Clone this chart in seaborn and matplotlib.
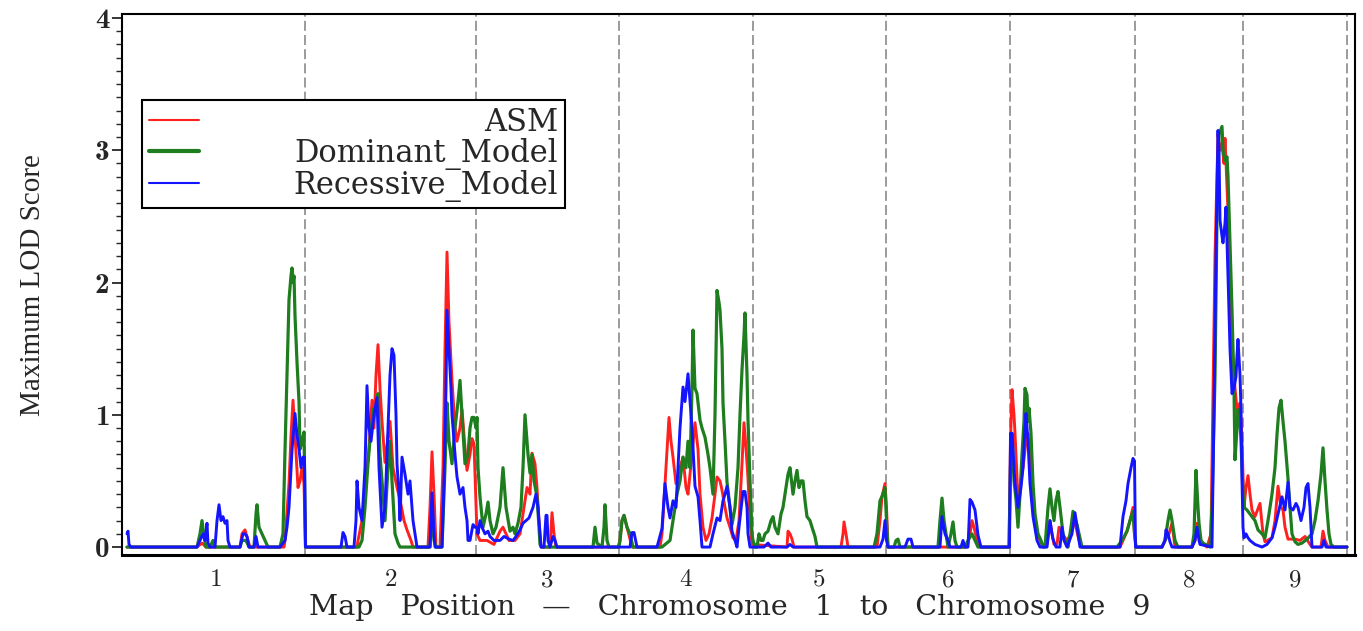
import numpy as np
import pandas as pd
import matplotlib
matplotlib.use("Agg")
import matplotlib.pyplot as plt
import seaborn as sns
from matplotlib.lines import Line2D
from matplotlib.ticker import MultipleLocator

# ---------------- data ----------------
CHROM_LABELS = ["1", "2", "3", "4", "5", "6", "7", "8", "9"]
CHROM_START = 5
CHROM_BOUNDS = [183, 354, 497, 631, 764, 888, 1013, 1121, 1225]
SERIES_NAMES = ["ASM", "Dominant_Model", "Recessive_Model"]

ASM = [
    (5, 0), (75, 0), (80, 0.03), (84, 0), (118, 0), (120, 0.1), (123, 0.13), (126, 0.05), (128, 0),
    (162, 0), (163, 0.05), (167, 0.48), (169, 0.84), (171, 1.11), (173, 0.84), (176, 0.45), (178, 0.5),
    (180, 0.6), (182, 0.48), (183.5, 0),
    (235, 0), (236, 0.05), (240, 0.2), (244, 0.5), (247, 0.75), (250, 1.11), (252, 0.9), (254, 1.3),
    (256, 1.53), (258, 1.2), (260, 0.95), (263, 0.64), (266, 0.83), (268, 0.95), (271, 0.6), (275, 0.45),
    (278, 0.36), (282, 0.2), (285, 0.13), (289, 0.05), (291, 0), (306, 0), (308, 0.3), (310, 0.72),
    (312, 0.4), (314, 0), (318, 0), (321, 0.6), (323, 1.5), (325, 2.23), (327, 1.7), (330, 1.26),
    (333, 0.9), (335, 0.8), (338, 0.9), (340, 1.04), (343, 0.75), (345, 0.58), (348, 0.7), (350, 0.82),
    (352, 0.78),
    (355, 0.1), (358, 0.05), (365, 0.05), (372, 0.02), (378, 0.12), (381, 0.15), (384, 0.1), (387, 0.05),
    (393, 0.05), (398, 0.1), (402, 0.3), (405, 0.45), (408, 0.4), (410, 0.71), (413, 0.63), (415, 0.45),
    (417, 0.2), (419, 0), (428, 0), (430, 0.26), (432, 0.1), (434, 0), (496, 0),
    (498, 0.05), (500, 0.2), (502, 0.24), (505, 0.15), (510, 0), (538, 0), (540, 0.1), (543, 0.48),
    (547, 0.98), (549, 0.8), (551, 0.68), (554, 0.48), (558, 0.6), (561, 0.68), (564, 0.45), (566, 0.4),
    (570, 0.7), (573, 0.94), (576, 0.74), (578, 0.4), (581, 0.15), (584, 0.05), (587, 0.1), (590, 0.22),
    (593, 0.4), (595, 0.53), (598, 0.5), (600, 0.43), (603, 0.3), (605, 0.22), (608, 0.15), (611, 0.07),
    (614, 0.05), (617, 0.2), (620, 0.63), (622, 0.94), (624, 0.75), (626, 0.52), (628, 0.2), (630, 0.02),
    (665, 0), (666, 0.12), (668, 0.1), (670, 0.06), (672, 0), (719, 0), (721, 0.1), (722, 0.19),
    (724, 0.1), (726, 0), (755, 0), (758, 0.2), (760, 0.38), (763, 0.48), (764.5, 0.3),
    (766, 0), (845, 0), (848, 0.1), (850, 0.2), (852, 0.15), (855, 0.05), (858, 0), (887, 0),
    (888.5, 0.8), (890, 1.19), (892, 1.0), (893, 0.86), (896, 0.36), (899, 0.5), (901, 0.6), (904, 0.8),
    (906, 0.86), (908, 0.7), (910, 0.48), (913, 0.2), (916, 0.08), (920, 0.02), (925, 0.02), (928, 0.2),
    (930, 0.1), (932, 0.02), (935, 0.02), (937, 0.15), (940, 0.1), (945, 0.05), (949, 0.1), (951, 0.2),
    (954, 0.15), (957, 0.05), (960, 0), (998, 0), (1001, 0.05), (1005, 0.12), (1008, 0.2), (1011, 0.3),
    (1012.5, 0.1),
    (1014, 0), (1040, 0), (1043, 0.05), (1047, 0.1), (1050, 0.18), (1053, 0), (1070, 0), (1073, 0.05),
    (1075, 0.18), (1078, 0.05), (1080, 0.03), (1085, 0), (1089, 0.1), (1091, 1.16), (1093, 2.2),
    (1096, 3.12), (1098, 3.0), (1100, 3.05), (1102, 2.9), (1103, 3.09), (1106, 2.54), (1108, 2.0),
    (1110, 1.54), (1113, 1.2), (1115, 1.04), (1117, 0.95), (1118, 1.09), (1120, 0.8),
    (1122, 0.3), (1124, 0.45), (1126, 0.54), (1128, 0.4), (1130, 0.28), (1133, 0.23), (1138, 0.33),
    (1141, 0.1), (1143, 0.04), (1150, 0.07), (1153, 0.2), (1156, 0.46), (1159, 0.3), (1161, 0.28),
    (1163, 0.15), (1166, 0.06), (1173, 0.06), (1178, 0.05), (1183, 0.08), (1188, 0.02), (1190, 0),
    (1199, 0), (1201, 0.12), (1203, 0.05), (1206, 0), (1225, 0),
]

DOMINANT = [
    (5, 0), (75, 0), (78, 0.1), (80, 0.2), (82, 0.08), (84, 0), (88, 0), (91, 0.05), (93, 0),
    (118, 0), (120, 0.05), (124, 0.05), (127, 0), (132, 0), (134, 0.25), (135, 0.32), (137, 0.15),
    (140, 0.1), (143, 0.05), (146, 0), (158, 0), (161, 0.1), (163, 0.73), (165, 1.3), (167, 1.87),
    (169, 2.05), (170, 2.11), (171, 2.0), (172, 2.05), (173, 1.75), (175, 1.4), (177, 1.1), (178, 0.74),
    (180, 0.8), (182, 0.87), (183.5, 0),
    (237, 0), (240, 0.05), (243, 0.3), (246, 0.63), (249, 0.9), (252, 1.05), (254, 1.0), (256, 1.16),
    (258, 0.7), (261, 0.4), (263, 0.2), (266, 0.6), (268, 0.8), (270, 0.5), (273, 0.1), (276, 0.03),
    (278, 0), (308, 0), (310, 0.3), (312, 0.05), (314, 0), (320, 0), (323, 0.6), (325, 1.09), (327, 0.8),
    (330, 0.63), (333, 0.9), (336, 1.1), (338, 1.26), (340, 1.0), (343, 0.63), (346, 0.7), (348, 0.9),
    (350, 0.98), (352, 0.98), (354, 0.9),
    (355, 0.98), (356, 0.6), (358, 0.38), (361, 0.15), (364, 0.25), (366, 0.34), (368, 0.2), (371, 0.1),
    (374, 0.15), (378, 0.3), (381, 0.6), (384, 0.3), (388, 0.12), (391, 0.15), (393, 0.1), (396, 0.18),
    (399, 0.3), (401, 0.6), (403, 1.0), (406, 0.7), (408, 0.56), (410, 0.7), (412, 0.5), (415, 0.38),
    (417, 0.15), (418, 0.02), (420, 0), (471, 0), (473, 0.15), (475, 0.03), (480, 0), (482, 0.15),
    (483, 0.32), (485, 0.05), (487, 0), (497, 0),
    (498, 0.05), (500, 0.2), (502, 0.24), (505, 0.15), (508, 0.1), (511, 0), (540, 0), (548, 0.05),
    (551, 0.2), (555, 0.4), (558, 0.5), (561, 0.68), (564, 0.6), (566, 0.8), (568, 0.6), (570, 1.2),
    (571, 1.64), (573, 1.2), (575, 1.16), (578, 0.96), (580, 0.9), (583, 0.83), (586, 0.7), (588, 0.6),
    (591, 0.4), (593, 1.0), (595, 1.94), (597, 1.85), (598, 1.79), (600, 1.5), (601, 1.09), (603, 0.8),
    (605, 0.49), (608, 0.3), (610, 0.17), (613, 0.3), (616, 0.6), (618, 1.0), (620, 1.34), (622, 1.6),
    (623, 1.77), (625, 1.3), (626, 0.96), (628, 0.5), (630, 0.1),
    (631, 0.05), (633, 0), (635, 0), (637, 0.1), (639, 0.05), (641, 0.05), (643, 0.1), (646, 0.12),
    (649, 0.2), (651, 0.23), (653, 0.15), (656, 0.1), (659, 0.25), (661, 0.3), (664, 0.45), (666, 0.55),
    (668, 0.6), (671, 0.4), (673, 0.5), (675, 0.58), (677, 0.45), (679, 0.5), (681, 0.5), (683, 0.35),
    (685, 0.23), (688, 0.2), (690, 0.15), (693, 0.08), (695, 0), (752, 0), (755, 0.1), (758, 0.35),
    (761, 0.4), (763, 0.45), (764.5, 0.2),
    (766, 0), (772, 0), (774, 0.05), (776, 0.06), (778, 0), (816, 0), (818, 0.2), (820, 0.37),
    (822, 0.2), (824, 0.1), (826, 0), (829, 0.1), (831, 0.19), (833, 0.05), (835, 0), (843, 0),
    (846, 0.05), (850, 0.1), (853, 0.05), (856, 0), (887, 0),
    (888.5, 0.6), (890, 0.86), (892, 0.5), (894, 0.36), (896, 0.15), (898, 0.4), (900, 0.7), (902, 0.95),
    (903, 1.2), (905, 1.15), (906, 0.95), (907, 1.05), (909, 0.86), (911, 0.48), (913, 0.25), (916, 0.1),
    (919, 0.05), (921, 0), (923, 0), (926, 0.3), (928, 0.44), (930, 0.3), (932, 0.2), (934, 0.35),
    (936, 0.42), (938, 0.3), (941, 0.1), (944, 0.03), (946, 0), (949, 0.15), (951, 0.27), (953, 0.22),
    (955, 0.17), (957, 0.1), (960, 0), (995, 0), (1000, 0.05), (1005, 0.12), (1008, 0.2), (1011, 0.27),
    (1012.5, 0.1),
    (1014, 0), (1040, 0), (1043, 0.05), (1046, 0.2), (1048, 0.28), (1050, 0.2), (1053, 0.05), (1056, 0),
    (1070, 0), (1072, 0.1), (1074, 0.58), (1076, 0.3), (1077, 0.18), (1079, 0.05), (1081, 0.03),
    (1088, 0), (1090, 0.3), (1093, 1.29), (1095, 2.5), (1097, 3.12), (1100, 3.18), (1101, 3.0),
    (1103, 2.92), (1105, 2.95), (1106, 2.8), (1108, 2.3), (1110, 1.79), (1112, 1.2), (1113, 0.66),
    (1115, 0.9), (1116, 1.04), (1118, 0.95), (1119, 0.8), (1121, 0.4),
    (1122, 0.3), (1125, 0.28), (1128, 0.25), (1130, 0.23), (1133, 0.2), (1136, 0.13), (1140, 0.1),
    (1143, 0.07), (1146, 0.2), (1150, 0.4), (1153, 0.6), (1155, 0.85), (1157, 1.05), (1159, 1.11),
    (1161, 0.95), (1163, 0.8), (1166, 0.52), (1168, 0.3), (1170, 0.1), (1173, 0.04), (1176, 0.02),
    (1180, 0.03), (1185, 0.06), (1190, 0.1), (1193, 0.2), (1196, 0.35), (1199, 0.55), (1201, 0.75),
    (1203, 0.5), (1205, 0.28), (1207, 0.1), (1209, 0.02), (1212, 0), (1225, 0),
]

RECESSIVE = [
    (5, 0.1), (6, 0.12), (7, 0.02), (9, 0), (75, 0), (78, 0.05), (81, 0.1), (83, 0.05), (85, 0.18),
    (86, 0.03), (88, 0), (93, 0), (95, 0.2), (97, 0.32), (99, 0.2), (101, 0.23), (103, 0.18), (105, 0.2),
    (106, 0.05), (108, 0), (118, 0), (121, 0.1), (123, 0.1), (125, 0.08), (127, 0), (132, 0), (134, 0.08),
    (136, 0), (158, 0), (163, 0.05), (165, 0.15), (167, 0.3), (170, 0.73), (173, 1.01), (175, 0.85),
    (177, 0.74), (179, 0.6), (181, 0.68), (182.5, 0.68), (183.5, 0),
    (219, 0), (221, 0.11), (223, 0.08), (225, 0), (232, 0), (234, 0.2), (235, 0.5), (237, 0.3),
    (240, 0.2), (243, 0.6), (245, 1.22), (247, 0.9), (249, 0.8), (252, 1.0), (255, 1.13), (257, 0.6),
    (260, 0.15), (263, 0.3), (266, 0.9), (268, 1.3), (270, 1.5), (272, 1.45), (274, 1.0), (275, 0.63),
    (277, 0.4), (278, 0.2), (280, 0.68), (283, 0.55), (286, 0.4), (288, 0.5), (291, 0.2), (293, 0.1),
    (295, 0), (308, 0), (310, 0.41), (312, 0.1), (313, 0), (320, 0), (322, 0.5), (324, 1.2), (325, 1.79),
    (327, 1.5), (329, 1.2), (330, 1.0), (333, 0.7), (335, 0.53), (338, 0.4), (341, 0.45), (343, 0.3),
    (345, 0.2), (346, 0.05), (348, 0.05), (351, 0.17), (353, 0.15),
    (355, 0.15), (356, 0.1), (358, 0.2), (360, 0.15), (363, 0.1), (366, 0.12), (368, 0.08), (372, 0.05),
    (378, 0.05), (382, 0.08), (387, 0.06), (391, 0.05), (394, 0.08), (398, 0.13), (401, 0.18), (404, 0.2),
    (407, 0.22), (411, 0.3), (414, 0.4), (416, 0.3), (418, 0.1), (419, 0), (422, 0), (424, 0.24),
    (425, 0.24), (426, 0.05), (428, 0), (431, 0.08), (433, 0.05), (435, 0), (497, 0),
    (508, 0), (510, 0.11), (512, 0.11), (515, 0), (535, 0), (540, 0.14), (543, 0.48), (546, 0.3),
    (548, 0.22), (551, 0.35), (554, 0.3), (556, 0.6), (558, 0.9), (561, 1.21), (563, 1.1), (566, 1.31),
    (568, 1.1), (570, 0.9), (572, 0.6), (573, 0.46), (576, 0.38), (578, 0.2), (580, 0), (588, 0),
    (591, 0.1), (595, 0.22), (598, 0.2), (601, 0.35), (603, 0.4), (605, 0.46), (608, 0.3), (610, 0.12),
    (613, 0.05), (615, 0), (617, 0.15), (620, 0.35), (621, 0.42), (623, 0.42), (625, 0.3), (626, 0.1),
    (628, 0), (642, 0), (646, 0.03), (649, 0), (665, 0), (668, 0.02), (671, 0), (758, 0), (761, 0.06),
    (763, 0.2), (764.5, 0.05),
    (766, 0), (783, 0), (786, 0.06), (789, 0.06), (791, 0), (818, 0), (820, 0.23), (823, 0.1),
    (826, 0.05), (828, 0), (839, 0), (841, 0.05), (843, 0), (846, 0), (848, 0.36), (850, 0.34),
    (853, 0.28), (856, 0.09), (859, 0), (887.5, 0),
    (888.5, 0.86), (890, 0.86), (893, 0.48), (896, 0.3), (899, 0.45), (901, 0.6), (903, 0.9), (904, 1.01),
    (906, 0.8), (908, 0.48), (911, 0.23), (915, 0.05), (918, 0), (925, 0), (928, 0.2), (930, 0.1),
    (931, 0.06), (934, 0), (938, 0), (940, 0.15), (942, 0.05), (945, 0), (950, 0.1), (953, 0.26),
    (956, 0.1), (958, 0), (998, 0), (1001, 0.23), (1004, 0.35), (1006, 0.48), (1009, 0.6), (1011, 0.67),
    (1012.5, 0.65), (1013.5, 0),
    (1040, 0), (1043, 0.05), (1044, 0.13), (1046, 0.1), (1048, 0.04), (1050, 0), (1070, 0), (1073, 0.05),
    (1075, 0.15), (1077, 0.05), (1078, 0.02), (1090, 0), (1091, 0.5), (1092, 1.04), (1094, 2.2),
    (1096, 3.15), (1097, 3.0), (1098, 2.47), (1100, 2.35), (1101, 2.3), (1103, 2.45), (1104, 2.57),
    (1106, 2.05), (1108, 1.5), (1110, 1.16), (1112, 1.2), (1114, 1.29), (1115, 1.45), (1116, 1.57),
    (1118, 1.3), (1119, 1.04), (1120, 0.5), (1121, 0.15),
    (1122, 0.07), (1124, 0.1), (1126, 0.07), (1128, 0.05), (1133, 0.02), (1140, 0), (1145, 0.02),
    (1150, 0.07), (1153, 0.15), (1156, 0.25), (1160, 0.38), (1163, 0.28), (1166, 0.49), (1168, 0.3),
    (1171, 0.28), (1174, 0.33), (1176, 0.3), (1179, 0.2), (1182, 0.3), (1184, 0.45), (1186, 0.48),
    (1188, 0.3), (1190, 0), (1200, 0), (1202, 0.05), (1204, 0), (1225, 0),
]

COLORS = {"ASM": "#ff2020", "Dominant_Model": "#1e7d1e", "Recessive_Model": "#1414ff"}

# ---------------- build frame ----------------
frames = []
for name, pts in zip(SERIES_NAMES, [ASM, DOMINANT, RECESSIVE]):
    arr = np.array(pts, dtype=float)
    frames.append(pd.DataFrame({"pos": arr[:, 0], "lod": arr[:, 1], "model": name}))
df = pd.concat(frames, ignore_index=True)

sns.set_theme(style="white")
plt.rcParams["font.family"] = ["DejaVu Serif"]
plt.rcParams["axes.unicode_minus"] = False

W, H = 1363, 631
fig = plt.figure(figsize=(W / 100, H / 100), dpi=100)
L, R, T, B = 122, 1355, 14, 555
ax = fig.add_axes([L / W, 1 - B / H, (R - L) / W, (B - T) / H])

for b in CHROM_BOUNDS:
    ax.axvline(b, color="#8a8a8a", lw=1.2, ls=(0, (6, 2.5)), zorder=1)

sns.lineplot(data=df, x="pos", y="lod", hue="model", hue_order=SERIES_NAMES,
             palette=COLORS, estimator=None, sort=False, ax=ax, legend=False)
for ln, lw in zip(ax.lines[len(CHROM_BOUNDS):], [2.1, 2.3, 2.1]):
    ln.set_linewidth(lw)
    ln.set_zorder(2)

ax.set_xlim(0, 1233)
ax.set_ylim(-0.06, 4.03)

edges = [CHROM_START] + CHROM_BOUNDS
centers = [(edges[i] + edges[i + 1]) / 2 for i in range(len(CHROM_LABELS))]
ax.set_xticks(centers)
ax.set_xticklabels(CHROM_LABELS)
ax.set_yticks([0, 1, 2, 3, 4])
ax.set_yticklabels(["0", "1", "2", "3", "4"])
ax.yaxis.set_minor_locator(MultipleLocator(0.1))
ax.tick_params(axis="x", length=0, pad=10)
ax.tick_params(axis="y", which="major", direction="out", length=7, width=1.3, left=True, pad=2)
ax.tick_params(axis="y", which="minor", direction="out", length=4, width=1.0, left=True)
for t in ax.get_xticklabels():
    t.set_fontfamily("cmr10")
    t.set_fontsize(18)
for t in ax.get_yticklabels():
    t.set_fontfamily("cmb10")
    t.set_fontsize(21)

for side, sp in ax.spines.items():
    sp.set_visible(True)
    sp.set_color("black")
    sp.set_linewidth(1.5)
ax.spines["bottom"].set_linewidth(2.2)

ax.set_ylabel("Maximum LOD Score", fontfamily="Liberation Serif", fontsize=21)
ax.yaxis.set_label_coords((46 - L) / (R - L), (B - 285) / (B - T))
ax.set_xlabel("Map   Position   \u2014   Chromosome   1   to   Chromosome   9", fontsize=20.5)
ax.xaxis.set_label_coords((730 - L) / (R - L), (B - 594) / (B - T))

handles = [Line2D([], [], color=COLORS["ASM"], lw=1.5),
           Line2D([], [], color=COLORS["Dominant_Model"], lw=3.0),
           Line2D([], [], color=COLORS["Recessive_Model"], lw=1.5)]
fs = 22
bpad = 0.22
leg = ax.legend(handles, SERIES_NAMES, loc="upper left",
                bbox_to_anchor=(142 / W, 1 - 100 / H), bbox_transform=fig.transFigure,
                frameon=True, fancybox=False, edgecolor="black", framealpha=1,
                fontsize=fs, handlelength=1.65, handletextpad=0.8, labelspacing=0.0,
                borderpad=bpad, borderaxespad=0)
leg.get_frame().set_linewidth(1.5)
# right-align the labels inside the legend box
fs_px = fs * 100 / 72
target = 423 - 2 * bpad * fs_px
for col in leg._legend_handle_box.get_children():
    for item in col.get_children():
        item.width = target
        item.mode = "expand"

fig.savefig("out.png", dpi=100)
